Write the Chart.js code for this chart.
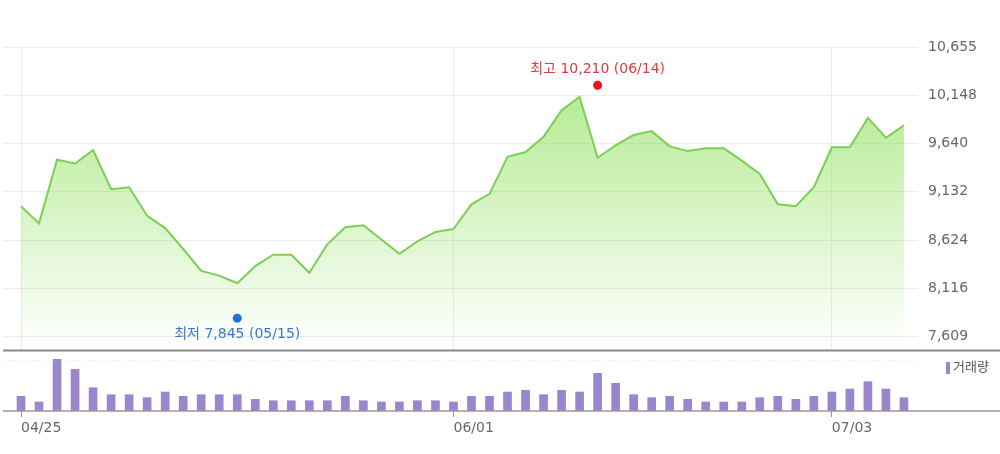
<!DOCTYPE html>
<html>
<head>
<meta charset="utf-8">
<script src="https://cdn.jsdelivr.net/npm/chart.js@4.4.0/dist/chart.umd.min.js"></script>
<style>
  html, body { margin: 0; padding: 0; background: #fff; }
  #wrap { position: relative; width: 1000px; height: 454px; overflow: hidden; }
  #price { position: absolute; left: 0; top: 0; }
  #volume { position: absolute; left: 0; top: 350px; }
</style>
</head>
<body>
<div id="wrap">
  <canvas id="price" width="1000" height="368"></canvas>
  <canvas id="volume" width="1000" height="104"></canvas>
</div>
<script>
// trading days, 2023-04-25 .. 2023-07-07
var dates = ['04/25','04/26','04/27','04/28','05/02','05/03','05/04','05/08','05/09','05/10',
  '05/11','05/12','05/15','05/16','05/17','05/18','05/19','05/22','05/23','05/24',
  '05/25','05/26','05/30','05/31','06/01','06/02','06/05','06/07','06/08','06/09',
  '06/12','06/13','06/14','06/15','06/16','06/19','06/20','06/21','06/22','06/23',
  '06/26','06/27','06/28','06/29','06/30','07/03','07/04','07/05','07/06','07/07'];

var closes = [8980, 8800, 9470, 9430, 9570, 9160, 9180, 8880, 8750, 8530,
  8300, 8250, 8170, 8350, 8470, 8470, 8280, 8580, 8760, 8780,
  8630, 8480, 8610, 8710, 8740, 9000, 9110, 9500, 9550, 9710,
  9990, 10130, 9490, 9620, 9730, 9770, 9610, 9560, 9590, 9590,
  9460, 9320, 9000, 8980, 9180, 9600, 9600, 9910, 9700, 9830];

var volumes = [147000, 90000, 517000, 417000, 233000, 163000, 163000, 133000, 190000, 147000,
  163000, 163000, 163000, 117000, 103000, 103000, 103000, 103000, 147000, 103000,
  90000, 90000, 103000, 103000, 90000, 147000, 147000, 190000, 207000, 163000,
  207000, 190000, 377000, 277000, 163000, 133000, 147000, 117000, 90000, 90000,
  90000, 133000, 147000, 117000, 147000, 190000, 220000, 293000, 220000, 133000];

var priceTicks = [7609, 8116, 8624, 9132, 9640, 10148, 10655];
var dateTicks = ['04/25', '06/01', '07/03'];

var highMark = { date: '06/14', value: 10210, label: '최고' };
var lowMark = { date: '05/15', value: 7845, label: '최저' };

var FONT = "'DejaVu Sans', 'Noto Sans CJK KR', sans-serif";
var X_MIN = -1, X_MAX = 49.78;

function fmt(v) { return v.toLocaleString('en-US'); }
function xy(arr) { return arr.map(function (v, i) { return { x: i, y: v }; }); }
function dateTickObjs() {
  return dateTicks.map(function (d) { return { value: dates.indexOf(d) }; });
}

// min / max markers and the full width separator line
var markerPlugin = {
  id: 'markers',
  afterDatasetsDraw: function (chart) {
    var c = chart.ctx, xs = chart.scales.x, ys = chart.scales.y;
    [[highMark, '#e8141c', '#e23a3a', -1], [lowMark, '#1f6fd8', '#3b78cc', 1]].forEach(function (m) {
      var px = xs.getPixelForValue(dates.indexOf(m[0].date));
      var py = ys.getPixelForValue(m[0].value) + m[3] * 4;
      c.save();
      c.fillStyle = m[1];
      c.beginPath();
      c.arc(px, py, 4.5, 0, Math.PI * 2);
      c.fill();
      c.font = '14px ' + FONT;
      c.fillStyle = m[2];
      c.textAlign = 'center';
      c.textBaseline = 'middle';
      c.fillText(m[0].label + ' ' + fmt(m[0].value) + ' (' + m[0].date + ')', px, py + m[3] * 16);
      c.restore();
    });
    var a = chart.chartArea;
    c.save();
    c.strokeStyle = '#8a8a8a';
    c.lineWidth = 2;
    c.beginPath();
    c.moveTo(a.left, a.bottom + 1);
    c.lineTo(chart.width, a.bottom + 1);
    c.stroke();
    c.restore();
  }
};

new Chart(document.getElementById('price'), {
  type: 'line',
  data: {
    datasets: [{
      data: xy(closes),
      borderColor: '#7ccf55',
      borderWidth: 2,
      pointRadius: 0,
      tension: 0,
      fill: 'start',
      backgroundColor: function (ctx) {
        var a = ctx.chart.chartArea;
        if (!a) return 'rgba(0,0,0,0)';
        var g = ctx.chart.ctx.createLinearGradient(0, a.top, 0, a.bottom);
        g.addColorStop(0, 'rgba(135,222,80,0.72)');
        g.addColorStop(1, 'rgba(135,222,80,0.0)');
        return g;
      }
    }]
  },
  options: {
    responsive: false,
    devicePixelRatio: 1,
    animation: false,
    layout: { padding: { top: 47, left: 3, right: 0, bottom: 2 } },
    plugins: { legend: { display: false }, tooltip: { enabled: false } },
    scales: {
      x: {
        type: 'linear', min: X_MIN, max: X_MAX,
        afterBuildTicks: function (s) { s.ticks = dateTickObjs(); },
        afterFit: function (s) { s.height = 0; },
        ticks: { display: false },
        grid: { color: '#ececec', drawTicks: false },
        border: { display: false }
      },
      y: {
        position: 'right', min: 7472, max: 10655,
        afterBuildTicks: function (s) { s.ticks = priceTicks.map(function (v) { return { value: v }; }); },
        afterFit: function (s) { s.width = 82; },
        ticks: { padding: 10, color: '#666', font: { family: FONT, size: 14 }, callback: function (v) { return fmt(v); } },
        grid: { color: '#ececec', drawTicks: false },
        border: { display: false }
      }
    }
  },
  plugins: [markerPlugin]
});

// legend for volume and full width baseline
var volumePlugin = {
  id: 'volExtras',
  afterDraw: function (chart) {
    var c = chart.ctx, a = chart.chartArea;
    c.save();
    c.strokeStyle = '#999';
    c.lineWidth = 1.5;
    c.beginPath();
    c.moveTo(a.left, a.bottom);
    c.lineTo(chart.width, a.bottom);
    c.stroke();
    var ds = chart.data.datasets[0];
    c.fillStyle = ds.backgroundColor;
    c.fillRect(a.right + 28, a.top + 7, 4, 12);
    c.fillStyle = '#555';
    c.font = '13px ' + FONT;
    c.textBaseline = 'middle';
    c.fillText(ds.label, a.right + 35, a.top + 13);
    c.restore();
  }
};

new Chart(document.getElementById('volume'), {
  type: 'bar',
  data: {
    datasets: [{
      label: '거래량',
      data: xy(volumes),
      backgroundColor: '#9a86cc',
      barThickness: 8
    }]
  },
  options: {
    responsive: false,
    devicePixelRatio: 1,
    animation: false,
    layout: { padding: { top: 5, left: 3, right: 0, bottom: 0 } },
    plugins: { legend: { display: false }, tooltip: { enabled: false } },
    scales: {
      x: {
        type: 'linear', min: X_MIN, max: X_MAX, offset: false,
        afterBuildTicks: function (s) { s.ticks = dateTickObjs(); },
        afterFit: function (s) { s.height = 43; },
        ticks: {
          align: 'start', padding: 3, color: '#666', maxRotation: 0,
          font: { family: FONT, size: 14 },
          callback: function (v) { return dates[v]; }
        },
        grid: { offset: false, drawOnChartArea: false, drawTicks: true, tickLength: 6, color: '#999' },
        border: { display: false }
      },
      y: {
        position: 'right', min: 0, max: 560000,
        afterBuildTicks: function (s) { s.ticks = [{ value: 500000 }]; },
        afterFit: function (s) { s.width = 82; },
        ticks: { display: false },
        grid: { color: '#eeeeee', drawTicks: false },
        border: { display: false, dash: [2, 3] }
      }
    }
  },
  plugins: [volumePlugin]
});
</script>
</body>
</html>
